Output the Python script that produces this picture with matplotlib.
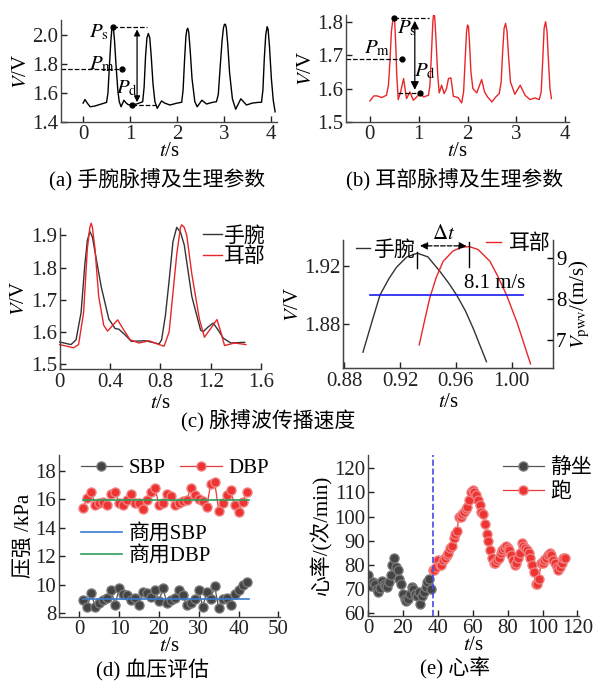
import numpy as np
import matplotlib
matplotlib.use("Agg")
from matplotlib import pyplot as plt
from matplotlib.lines import Line2D

plt.rcParams['font.family'] = ['Liberation Serif', 'Noto Sans CJK SC']
plt.rcParams['mathtext.fontset'] = 'stix'
plt.rcParams['font.size'] = 15
plt.rcParams['axes.unicode_minus'] = False

# ---------------- data ----------------
# (a) wrist pulse
a_t = [0.00, 0.04, 0.09, 0.15, 0.25, 0.40, 0.50, 0.53, 0.56, 0.59, 0.61, 0.63, 0.65, 0.67, 0.70, 0.74, 0.77, 0.81, 0.87,
       0.92, 0.96, 1.03, 1.15, 1.27, 1.30, 1.33, 1.36, 1.39, 1.42, 1.45, 1.49, 1.53, 1.58, 1.67, 1.74, 1.85,
       2.00, 2.10, 2.13, 2.16, 2.19, 2.21, 2.23, 2.25, 2.28, 2.32, 2.38, 2.43, 2.53, 2.63, 2.75, 2.84, 2.88, 2.92,
       2.96, 2.99, 3.01, 3.03, 3.05, 3.08, 3.12, 3.18, 3.25, 3.36, 3.48, 3.60, 3.72, 3.80, 3.83, 3.86, 3.89, 3.92, 3.94,
       3.97, 4.01, 4.05, 4.09]
a_v = [1.530, 1.555, 1.530, 1.505, 1.510, 1.525, 1.535, 1.600, 1.780, 1.950, 2.030, 2.057, 2.030, 1.960, 1.800, 1.620, 1.540, 1.505, 1.550,
       1.530, 1.520, 1.517, 1.525, 1.540, 1.640, 1.850, 1.980, 2.010, 1.980, 1.860, 1.660, 1.540, 1.494, 1.545, 1.530, 1.517,
       1.530, 1.536, 1.620, 1.820, 1.990, 2.035, 2.046, 2.020, 1.900, 1.700, 1.540, 1.505, 1.550, 1.524, 1.535, 1.540, 1.590, 1.780,
       1.960, 2.050, 2.072, 2.074, 2.050, 1.940, 1.740, 1.560, 1.488, 1.560, 1.517, 1.530, 1.535, 1.536, 1.620, 1.840, 2.000, 2.057, 2.040,
       1.920, 1.700, 1.550, 1.470]

# (b) ear pulse
b_t = [0.00, 0.08, 0.15, 0.24, 0.34, 0.38, 0.41, 0.44, 0.47, 0.49, 0.51, 0.53, 0.55, 0.58, 0.63, 0.69, 0.72,
       0.75, 0.82, 0.89, 0.96, 1.03, 1.10, 1.20, 1.23, 1.26, 1.29, 1.31, 1.33, 1.36, 1.39, 1.42, 1.47, 1.52,
       1.57, 1.61, 1.66, 1.69, 1.71, 1.81, 1.88, 1.92, 1.95, 1.98, 2.00, 2.02, 2.04, 2.07, 2.11, 2.19, 2.29, 2.35,
       2.41, 2.50, 2.58, 2.65, 2.69, 2.72, 2.75, 2.78, 2.81, 2.84, 2.88, 2.97, 3.08, 3.18, 3.28, 3.38, 3.47,
       3.51, 3.54, 3.57, 3.60, 3.63, 3.66, 3.69, 3.72]
b_v = [1.563, 1.578, 1.578, 1.573, 1.580, 1.610, 1.680, 1.770, 1.805, 1.813, 1.795, 1.730, 1.640, 1.567, 1.590, 1.630, 1.600,
       1.570, 1.590, 1.565, 1.575, 1.587, 1.575, 1.580, 1.610, 1.700, 1.800, 1.830, 1.810, 1.730, 1.640, 1.587, 1.610, 1.585,
       1.600, 1.630, 1.632, 1.600, 1.577, 1.573, 1.557, 1.590, 1.680, 1.770, 1.790, 1.785, 1.740, 1.650, 1.600, 1.587, 1.627, 1.590,
       1.575, 1.560, 1.575, 1.585, 1.620, 1.710, 1.780, 1.795, 1.770, 1.700, 1.620, 1.583, 1.610, 1.580, 1.567, 1.572, 1.567,
       1.590, 1.680, 1.780, 1.800, 1.770, 1.680, 1.600, 1.570]

# (c) two beats, wrist vs ear
cw_t = [0.00, 0.09, 0.13, 0.17, 0.20, 0.22, 0.24, 0.26, 0.28, 0.33, 0.39, 0.44, 0.47, 0.52, 0.57, 0.68, 0.79,
        0.81, 0.84, 0.87, 0.90, 0.93, 0.96, 0.99, 1.05, 1.12, 1.14, 1.18, 1.22, 1.26, 1.30, 1.36, 1.47]
cw_v = [1.568, 1.560, 1.575, 1.660, 1.810, 1.885, 1.912, 1.895, 1.850, 1.740, 1.640, 1.610, 1.608, 1.590, 1.570, 1.572, 1.562,
        1.575, 1.650, 1.760, 1.880, 1.925, 1.910, 1.870, 1.710, 1.605, 1.600, 1.615, 1.627, 1.605, 1.580, 1.565, 1.567]
ce_t = [0.00, 0.11, 0.15, 0.19, 0.22, 0.24, 0.25, 0.26, 0.28, 0.31, 0.35, 0.38, 0.41, 0.46, 0.51, 0.56, 0.63,
        0.71, 0.79, 0.83, 0.87, 0.90, 0.93, 0.96, 0.97, 0.99, 1.01, 1.05, 1.11, 1.15, 1.20, 1.25, 1.28, 1.31, 1.39, 1.48]
ce_v = [1.560, 1.550, 1.560, 1.660, 1.860, 1.925, 1.938, 1.925, 1.860, 1.710, 1.620, 1.602, 1.615, 1.637, 1.605, 1.575, 1.565,
        1.572, 1.560, 1.555, 1.600, 1.720, 1.840, 1.925, 1.933, 1.925, 1.900, 1.780, 1.640, 1.583, 1.610, 1.638, 1.600, 1.557, 1.565, 1.560]

# (c) zoom on the second peak
zw_t = [0.8935, 0.9000, 0.9057, 0.9120, 0.9176, 0.9250, 0.9324, 0.9400, 0.9487, 0.9550, 0.9606, 0.9670, 0.9726, 0.9820]
zw_v = [1.861, 1.882, 1.900, 1.911, 1.919, 1.926, 1.9285, 1.926, 1.916, 1.908, 1.900, 1.889, 1.877, 1.8545]
ze_t = [0.9338, 0.9380, 0.9414, 0.9460, 0.9510, 0.9580, 0.9640, 0.9697, 0.9760, 0.9845, 0.9900, 0.9964, 1.0040, 1.0136]
ze_v = [1.866, 1.884, 1.898, 1.912, 1.923, 1.930, 1.9325, 1.933, 1.931, 1.923, 1.913, 1.900, 1.881, 1.853]
pwv = 8.1
pwv_span = [0.8986, 1.0085]

# (d) blood pressure
bp_t = list(range(1, 43))
sbp = [8.95, 8.45, 9.4, 8.45, 8.75, 8.95, 9.1, 9.6, 8.6, 9.75, 9.35, 9.25, 8.95, 9.1, 8.6, 9.5, 9.4, 9.15, 9.6, 8.85, 9.75,
       8.75, 8.95, 9.1, 9.6, 9.25, 8.6, 8.7, 9.0, 9.6, 8.45, 9.5, 9.0, 9.9, 8.35, 9.0, 9.1, 8.6, 9.35, 9.6, 10.0, 10.2]
dbp = [15.4, 16.1, 16.5, 15.6, 15.7, 15.8, 15.6, 16.4, 16.5, 15.7, 15.6, 15.95, 16.4, 15.75, 15.75, 15.3, 15.95, 16.5, 16.8, 15.6, 15.7,
       16.4, 16.2, 15.6, 15.75, 15.85, 15.95, 16.8, 16.3, 16.0, 15.85, 15.45, 17.1, 17.2, 15.2, 15.75, 16.3, 16.65, 15.6, 15.1, 15.8, 16.5]
sbp_ref = 9.0
dbp_ref = 15.95
ref_span = [1, 42.5]

# (e) heart rate
hr_sit_t = list(range(0, 37))
hr_sit = [76, 72, 71.5, 73, 72, 70, 69, 70.5, 73.5, 72, 71.5, 71, 73, 76, 80, 83, 79, 78, 74, 72, 68, 66, 65, 66, 68,
          71, 70, 68, 67, 69, 64, 67, 69, 71, 73, 74, 70]
hr_run_t = list(range(37, 114))
hr_run = [78, 78, 79, 82, 80, 80, 82, 83, 84, 85, 87, 88, 91, 93, 94, 100, 100, 101, 102, 103, 104, 107, 110, 111, 110,
          109, 107, 105, 102, 101, 97, 93, 90, 86, 83, 81, 81, 82, 83, 85, 86, 87, 88, 87, 86, 84, 82, 80, 81, 83,
          85, 89, 88, 87, 86, 85, 83, 80, 77, 72, 72, 74, 81, 81, 82, 83, 84, 85, 84, 82, 81, 79, 78, 79, 81,
          83, 83]
hr_switch = 37.5

# ---------------- figure ----------------
fig = plt.figure(figsize=(6, 6.83), dpi=100)
W, H = 600, 683
FS = 15


def add(l, t, r, b):
    return fig.add_axes([l / W, 1 - b / H, (r - l) / W, (b - t) / H])


def style(ax, right=False):
    ax.spines['top'].set_visible(False)
    if not right:
        ax.spines['right'].set_visible(False)
    for s in ax.spines.values():
        s.set_color('#444444')
        s.set_linewidth(1.0)
    ax.tick_params(direction='in', length=4, width=1.0, colors='#222222', labelsize=FS, pad=2)


black = '#333333'
red = '#e8262a'
tl = '$t$/s'
vl = '$V$/V'

# (a)
ax = add(61, 20, 277, 122)
style(ax)
ax.plot(a_t, a_v, color='black', lw=1.0)
ax.set_xlim(-0.47, 4.13)
ax.set_ylim(1.4, 2.103)
ax.set_xticks([0, 1, 2, 3, 4])
ax.set_yticks([1.4, 1.6, 1.8, 2.0])
ax.set_yticklabels(['1.4', '1.6', '1.8', '2.0'])
ax.set_xlabel(tl, fontsize=FS, labelpad=-1)
ax.set_ylabel(vl, fontsize=FS, labelpad=1)
ax.plot([0.63, 1.36], [2.057, 2.057], 'k--', lw=0.9)
ax.plot([-0.47, 0.83], [1.765, 1.765], 'k--', lw=0.9)
ax.plot([1.04, 1.57], [1.517, 1.517], 'k--', lw=0.9)
ax.plot([0.63, 0.83, 1.04], [2.057, 1.765, 1.517], 'ko', ms=3.5)
ax.annotate('', xy=(1.15, 2.057), xytext=(1.15, 1.517),
            arrowprops=dict(arrowstyle='<|-|>', color='black', lw=0.9, mutation_scale=9))
ax.text(0.33, 2.02, '$P_{\\rm s}$', fontsize=FS, ha='center', va='center')
ax.text(0.40, 1.80, '$P_{\\rm m}$', fontsize=FS, ha='center', va='center')
ax.text(0.93, 1.63, '$P_{\\rm d}$', fontsize=FS, ha='center', va='center')
fig.text(157 / W, 1 - 180 / H, '(a) 手腕脉搏及生理参数', ha='center', va='center', fontsize=15)

# (b)
ax = add(346, 15, 569, 122)
style(ax)
ax.plot(b_t, b_v, color=red, lw=1.0)
ax.set_xlim(-0.49, 4.08)
ax.set_ylim(1.5, 1.82)
ax.set_xticks([0, 1, 2, 3, 4])
ax.set_yticks([1.5, 1.6, 1.7, 1.8])
ax.set_yticklabels(['1.5', '1.6', '1.7', '1.8'])
ax.set_xlabel(tl, fontsize=FS, labelpad=-1)
ax.set_ylabel(vl, fontsize=FS, labelpad=1)
ax.plot([0.49, 1.21], [1.811, 1.811], 'k--', lw=0.9)
ax.plot([-0.49, 0.65], [1.687, 1.687], 'k--', lw=0.9)
ax.plot([0.57, 1.03], [1.588, 1.588], 'k--', lw=0.9)
ax.plot([0.49, 0.65, 1.03], [1.811, 1.687, 1.588], 'ko', ms=3.5)
ax.annotate('', xy=(0.92, 1.811), xytext=(0.92, 1.588),
            arrowprops=dict(arrowstyle='<|-|>', color='black', lw=0.9, mutation_scale=12))
ax.text(0.75, 1.78, '$P_{\\rm s}$', fontsize=FS, ha='center', va='center')
ax.text(0.14, 1.72, '$P_{\\rm m}$', fontsize=FS, ha='center', va='center')
ax.text(1.13, 1.65, '$P_{\\rm d}$', fontsize=FS, ha='center', va='center')
fig.text(455 / W, 1 - 180 / H, '(b) 耳部脉搏及生理参数', ha='center', va='center', fontsize=15)

# (c) left
ax = add(59.7, 228, 261, 369)
style(ax)
ax.plot(cw_t, cw_v, color=black, lw=1.0, label='手腕', clip_on=False)
ax.plot(ce_t, ce_v, color=red, lw=1.0, label='耳部', clip_on=False)
ax.set_xlim(0, 1.6)
ax.set_ylim(1.484, 1.923)
ax.set_xticks([0, 0.4, 0.8, 1.2, 1.6])
ax.set_xticklabels(['0', '0.4', '0.8', '1.2', '1.6'])
ax.set_yticks([1.5, 1.6, 1.7, 1.8, 1.9])
ax.set_yticklabels(['1.5', '1.6', '1.7', '1.8', '1.9'])
ax.tick_params(axis='x', pad=3)
ax.set_xlabel(tl, fontsize=FS, labelpad=1)
ax.set_ylabel(vl, fontsize=FS, labelpad=1)
ax.legend(loc='upper left', bbox_to_anchor=(0.67, 1.07), frameon=False, handlelength=0.9,
          handletextpad=0.1, labelspacing=0.05, fontsize=FS, borderaxespad=0)

# (c) right
ax = add(343.3, 240, 553.3, 368.3)
style(ax, right=True)
ax.plot(zw_t, zw_v, color=black, lw=1.0)
ax.plot(ze_t, ze_v, color=red, lw=1.0)
ax.set_xlim(0.8794, 1.0299)
ax.set_ylim(1.85, 1.9375)
ax.set_xticks([0.88, 0.92, 0.96, 1.00])
ax.set_xticklabels(['0.88', '0.92', '0.96', '1.00'])
ax.set_yticks([1.88, 1.92])
ax.set_yticklabels(['1.88', '1.92'])
ax.tick_params(axis='x', pad=3)
ax.set_xlabel(tl, fontsize=FS, labelpad=1)
ax.set_ylabel(vl, fontsize=FS, labelpad=1)
ax.plot([0.9324, 0.9324], [1.9182, 1.9295], color='black', lw=1.0)
ax.plot([0.9697, 0.9697], [1.919, 1.936], color='black', lw=1.0, clip_on=False)
ax.annotate('', xy=(0.9324, 1.9335), xytext=(0.9697, 1.9335),
            arrowprops=dict(arrowstyle='<|-|>', color='black', lw=0.9, ls='--', mutation_scale=11))
ax.text(0.951, 1.9415, '$\\Delta t$', fontsize=FS, ha='center', va='center')
ax.text(0.988, 1.908, '8.1 m/s', fontsize=FS, ha='center', va='center')
leg1 = ax.legend(handles=[Line2D([], [], color=black, lw=1.0)], labels=['手腕'], loc='upper left',
                 bbox_to_anchor=(0.02, 1.06), frameon=False, handlelength=0.7, handletextpad=0.15,
                 fontsize=FS, borderaxespad=0)
ax.add_artist(leg1)
ax.legend(handles=[Line2D([], [], color=red, lw=1.0)], labels=['耳部'], loc='upper left',
          bbox_to_anchor=(0.64, 1.11), frameon=False, handlelength=0.7, handletextpad=0.4,
          fontsize=FS, borderaxespad=0)
ax2 = ax.twinx()
ax2.spines['top'].set_visible(False)
for s in ax2.spines.values():
    s.set_color('#444444')
ax2.tick_params(direction='in', length=4, width=1.0, labelsize=FS, pad=2)
ax2.plot(pwv_span, [pwv, pwv], color='#1a1aee', lw=1.2)
ax2.set_ylim(6.31, 9.45)
ax2.set_yticks([7, 8, 9])
ax2.set_ylabel('$V_{\\rm pwv}$/(m/s)', fontsize=FS, labelpad=1)
fig.text(268 / W, 1 - 421 / H, '(c) 脉搏波传播速度', ha='center', va='center', fontsize=15)

# (d)
ax = add(59, 455, 280, 617)
style(ax)
l1, = ax.plot(bp_t, sbp, '-o', color='#555555', mfc='#444444', mec='#777777', ms=6.5, lw=0.9)
l2, = ax.plot(bp_t, dbp, '-o', color='#e83a3a', mfc='#ee3333', mec='#f08080', ms=6.5, lw=0.9)
l3, = ax.plot(ref_span, [sbp_ref, sbp_ref], color='#3a7ad0', lw=1.2)
l4, = ax.plot(ref_span, [dbp_ref, dbp_ref], color='#2fa05a', lw=1.2)
ax.set_xlim(-5.1, 50.4)
ax.set_ylim(7.74, 19.1)
ax.set_xticks([0, 10, 20, 30, 40, 50])
ax.set_yticks([8, 10, 12, 14, 16, 18])
ax.set_xlabel(tl, fontsize=FS, labelpad=-1)
ax.set_ylabel('压强 /kPa', fontsize=FS, labelpad=1)
leg = ax.legend([l1, l2], ['SBP', 'DBP'], ncol=2, loc='upper left', bbox_to_anchor=(0.06, 1.03),
                frameon=False, handlelength=2.0, handletextpad=0.3, columnspacing=0.7,
                fontsize=FS, borderaxespad=0)
ax.add_artist(leg)
ax.legend([l3, l4], ['商用SBP', '商用DBP'], loc='upper left', bbox_to_anchor=(0.06, 0.625),
          frameon=False, handlelength=2.0, handletextpad=0.3, labelspacing=0.1,
          fontsize=FS, borderaxespad=0)
fig.text(152 / W, 1 - 670 / H, '(d) 血压评估', ha='center', va='center', fontsize=15)

# (e)
ax = add(368, 455, 578.5, 616)
style(ax)
ax.plot(hr_sit_t, hr_sit, '-o', color='#555555', mfc='#444444', mec='#777777', ms=6.5, lw=0.9, label='静坐')
ax.plot(hr_run_t, hr_run, '-o', color='#e83a3a', mfc='#ee3333', mec='#f08080', ms=6.5, lw=0.9, label='跑')
ax.axvline(hr_switch, color='#4a4ae0', ls='--', lw=1.2)
ax.set_xlim(0, 120.6)
ax.set_ylim(58.9, 125.5)
ax.set_xticks([0, 20, 40, 60, 80, 100, 120])
ax.set_yticks([60, 70, 80, 90, 100, 110, 120])
ax.set_xlabel(tl, fontsize=FS, labelpad=-1)
ax.set_ylabel('心率/(次/min)', fontsize=FS, labelpad=1)
ax.legend(loc='upper left', bbox_to_anchor=(0.6, 1.03), frameon=False, handlelength=2.0,
          handletextpad=0.3, labelspacing=0.2, fontsize=FS, borderaxespad=0)
fig.text(455 / W, 1 - 668 / H, '(e) 心率', ha='center', va='center', fontsize=15)

fig.savefig('out.png', dpi=100)
